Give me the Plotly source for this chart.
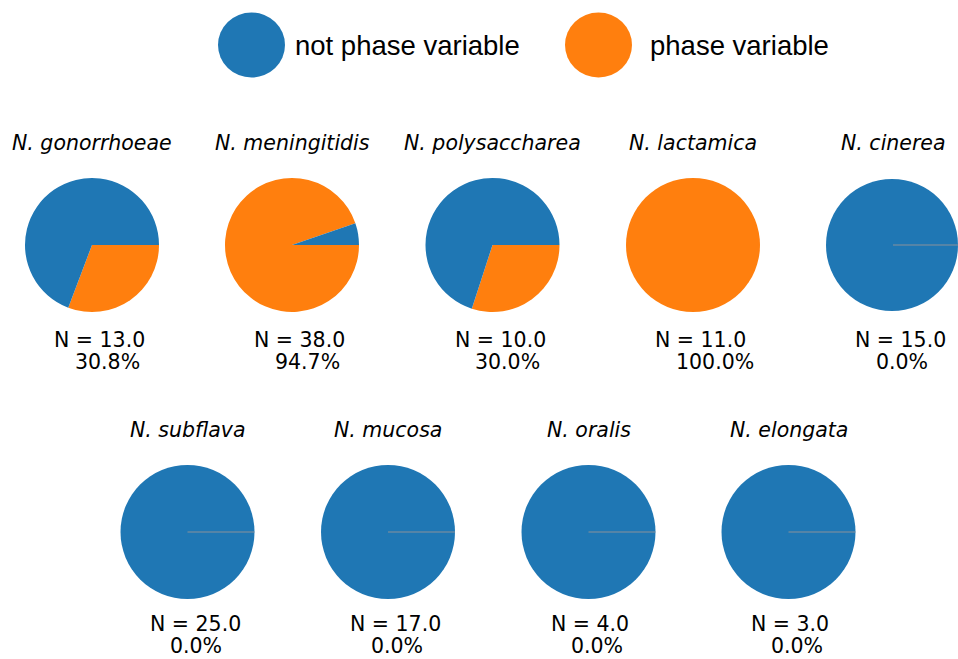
import plotly.graph_objects as go

# Share of phase-variable alleles per Neisseria species
species = ["gonorrhoeae", "meningitidis", "polysaccharea", "lactamica", "cinerea",
           "subflava", "mucosa", "oralis", "elongata"]
n_isolates = [13, 38, 10, 11, 15, 25, 17, 4, 3]
phase_counts = [4, 36, 3, 11, 0, 0, 0, 0, 0]
categories = ["not phase variable", "phase variable"]
colors = ["#1f77b4", "#ff7f0e"]

W, H = 958, 659
R = 67
# pie centres in pixels (two rows)
centers = [(92, 245), (292, 245), (492.5, 245), (693, 245), (893, 245),
           (187.5, 532), (388, 532), (588.5, 532), (788.5, 532)]

FONT = "DejaVu Sans"
fig = go.Figure()
annotations = []
shapes = []


def px(x):
    return x / W


def py(y):
    return 1 - y / H


for i, name in enumerate(species):
    cx, cy = centers[i]
    n = n_isolates[i]
    pv = phase_counts[i]
    x0 = max(0.0, px(cx - R))
    x1 = min(1.0, px(cx + R))
    # slices listed phase-first and drawn clockwise from 3 o'clock, so the
    # "not phase variable" share runs counter-clockwise from 3 o'clock
    fig.add_trace(go.Pie(
        labels=categories[::-1],
        values=[pv, n - pv],
        marker=dict(colors=colors[::-1], line=dict(width=0)),
        sort=False,
        direction="clockwise",
        rotation=90,
        textinfo="none",
        hoverinfo="label+percent",
        showlegend=False,
        domain=dict(x=[x0, x1], y=[py(cy + R), py(cy - R)]),
    ))
    # hairline seam left by the empty phase-variable wedge
    if pv == 0:
        shapes.append(dict(type="line", xref="paper", yref="paper",
                           x0=px(cx), y0=py(cy), x1=min(1.0, px(cx + R)), y1=py(cy),
                           line=dict(color="#8a929a", width=1)))
    pct = 100.0 * pv / n
    # bottom row sits close to the page edge, so its caption is nudged up
    first_line, second_line = (95, 117) if cy < 400 else (92, 114)
    annotations.append(dict(
        x=px(cx), y=py(cy - 102), xref="paper", yref="paper",
        text=f"<i>N. {name}</i>", showarrow=False, xanchor="center", yanchor="middle",
        font=dict(family=FONT, size=20.5, color="black")))
    annotations.append(dict(
        x=px(cx - 40), y=py(cy + first_line), xref="paper", yref="paper",
        text=f"N = {float(n):.1f}", showarrow=False, xanchor="left", yanchor="middle",
        font=dict(family=FONT, size=20.5, color="black")))
    annotations.append(dict(
        x=px(cx - 19.5), y=py(cy + second_line), xref="paper", yref="paper",
        text=f"{pct:.1f}%", showarrow=False, xanchor="left", yanchor="middle",
        font=dict(family=FONT, size=20.5, color="black")))

# legend: large round markers with labels
legend_items = [(251.5, 45, 293), (598.5, 45, 648)]
for (lx, ly, tx), cat, col in zip(legend_items, categories, colors):
    shapes.append(dict(type="circle", xref="paper", yref="paper",
                       x0=px(lx - 33.5), x1=px(lx + 33.5), y0=py(ly + 32.5), y1=py(ly - 32.5),
                       fillcolor=col, line=dict(width=0)))
    annotations.append(dict(
        x=px(tx), y=py(ly), xref="paper", yref="paper", text=cat, showarrow=False,
        xanchor="left", yanchor="middle",
        font=dict(family="Liberation Sans", size=27.5, color="black")))

fig.update_layout(
    width=W, height=H,
    margin=dict(l=0, r=0, t=0, b=0),
    paper_bgcolor="white", plot_bgcolor="white",
    annotations=annotations,
    shapes=shapes,
)

fig.write_html("out.html")
